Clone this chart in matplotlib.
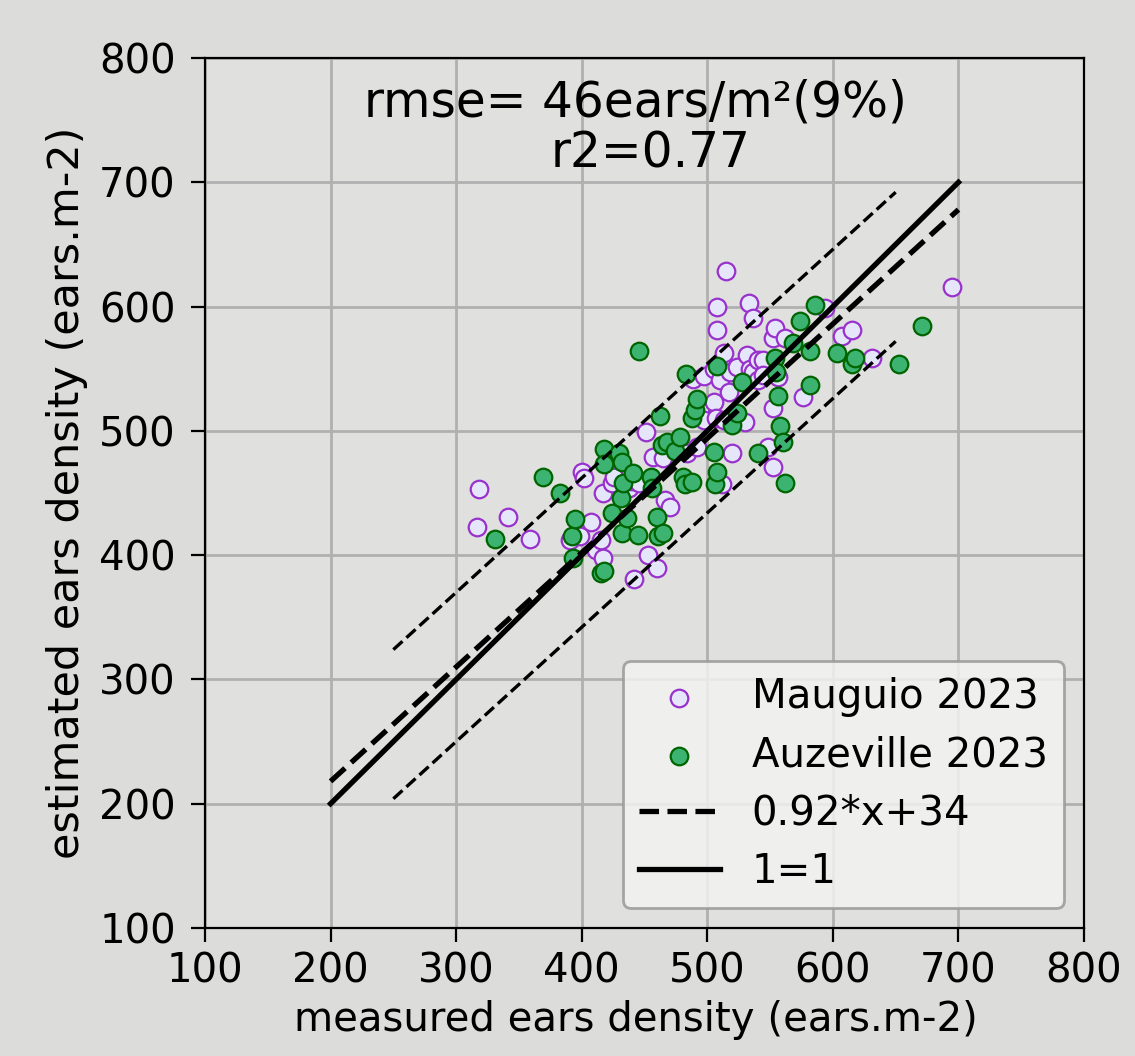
import numpy as np
import matplotlib.pyplot as plt

# Mauguio 2023 (measured, estimated)
mau_x = [318, 317, 341, 359, 391, 399, 400, 402, 407, 411, 415, 417, 417, 424, 426,
         438, 440, 442, 446, 451, 453, 457, 460, 465, 466, 470, 484, 489, 492, 494,
         497, 497, 505, 505, 507, 508, 508, 510, 512, 513, 513, 515, 517, 518, 520,
         524, 530, 532, 533, 534, 536, 536, 540, 540, 544, 544, 548, 552, 552, 552,
         554, 556, 562, 576, 594, 607, 615, 631, 695]
mau_y = [453, 423, 431, 413, 412, 415, 467, 462, 427, 404, 412, 398, 450, 458, 463,
         454, 460, 381, 458, 499, 400, 479, 390, 478, 444, 439, 482, 542, 487, 517,
         509, 544, 523, 550, 510, 600, 581, 541, 457, 563, 509, 629, 531, 547, 482,
         551, 507, 561, 603, 550, 591, 547, 557, 541, 557, 545, 487, 471, 518, 575,
         583, 543, 575, 527, 599, 576, 581, 559, 616]

# Auzeville 2023
auz_x = [331, 369, 383, 392, 393, 395, 415, 418, 418, 418, 424, 430, 431, 432, 432,
         433, 436, 441, 445, 446, 455, 456, 460, 461, 462, 465, 464, 468, 474, 478,
         481, 482, 483, 488, 488, 490, 492, 505, 506, 508, 508, 520, 524, 528, 540,
         554, 555, 556, 558, 560, 562, 568, 574, 582, 582, 586, 603, 615, 618, 653, 671]
auz_y = [413, 463, 450, 415, 398, 429, 386, 387, 485, 473, 434, 482, 446, 475, 418,
         458, 430, 466, 416, 564, 463, 454, 431, 415, 512, 418, 489, 491, 484, 495,
         463, 457, 546, 459, 510, 517, 526, 483, 457, 467, 552, 505, 514, 539, 482,
         559, 547, 528, 504, 491, 458, 571, 588, 564, 537, 601, 563, 554, 559, 554, 584]

slope, intercept = 0.92, 34
band = 60
ticks = [100, 200, 300, 400, 500, 600, 700, 800]

plt.rcParams['font.size'] = 14.5

fig = plt.figure(figsize=(5.675, 5.28), dpi=200, facecolor='#dcdcda')
ax = fig.add_axes([0.1806, 0.1212, 0.7745, 0.8239])
ax.set_facecolor('#e0e0de')
ax.grid(True, color='#b0b0b0', linewidth=1.0)
ax.set_axisbelow(True)

ax.scatter(mau_x, mau_y, s=40, facecolor='#e6e6fa', edgecolor='#9932cc',
           linewidth=0.8, label='Mauguio 2023', zorder=3)
ax.scatter(auz_x, auz_y, s=40, facecolor='#3cb371', edgecolor='#006400',
           linewidth=0.8, label='Auzeville 2023', zorder=3)

xl = np.array([200, 700])
ax.plot(xl, slope * xl + intercept, 'k--', linewidth=1.9,
        label='%.2f*x+%d' % (slope, intercept), zorder=4)
ax.plot(xl, xl, 'k-', linewidth=1.9, label='1=1', zorder=4)
xb = np.array([250, 650])
ax.plot(xb, slope * xb + intercept + band, 'k--', linewidth=1.2, zorder=4)
ax.plot(xb, slope * xb + intercept - band, 'k--', linewidth=1.2, zorder=4)

ax.text(443, 753, 'rmse= 46ears/m\u00b2(9%)', ha='center', va='baseline', fontsize=17.5)
ax.text(454.5, 712, 'r2=0.77', ha='center', va='baseline', fontsize=17.5)

ax.set_xlim(100, 800)
ax.set_ylim(100, 800)
ax.set_xticks(ticks)
ax.set_yticks(ticks)
ax.tick_params(length=5, width=0.8)
ax.tick_params(axis='y', pad=5.5)
ax.set_xlabel('measured ears density (ears.m-2)', labelpad=3)
ax.xaxis.label.set_x(0.49)
ax.set_ylabel('estimated ears density (ears.m-2)', fontsize=15.5, labelpad=4)

leg = ax.legend(loc='lower right', facecolor='#f2f2f2', edgecolor='#999999',
                framealpha=0.85, borderpad=0.4, labelspacing=0.45, handlelength=2.0)
leg.get_frame().set_linewidth(1.0)

fig.savefig('out.png', dpi=200, facecolor=fig.get_facecolor())
